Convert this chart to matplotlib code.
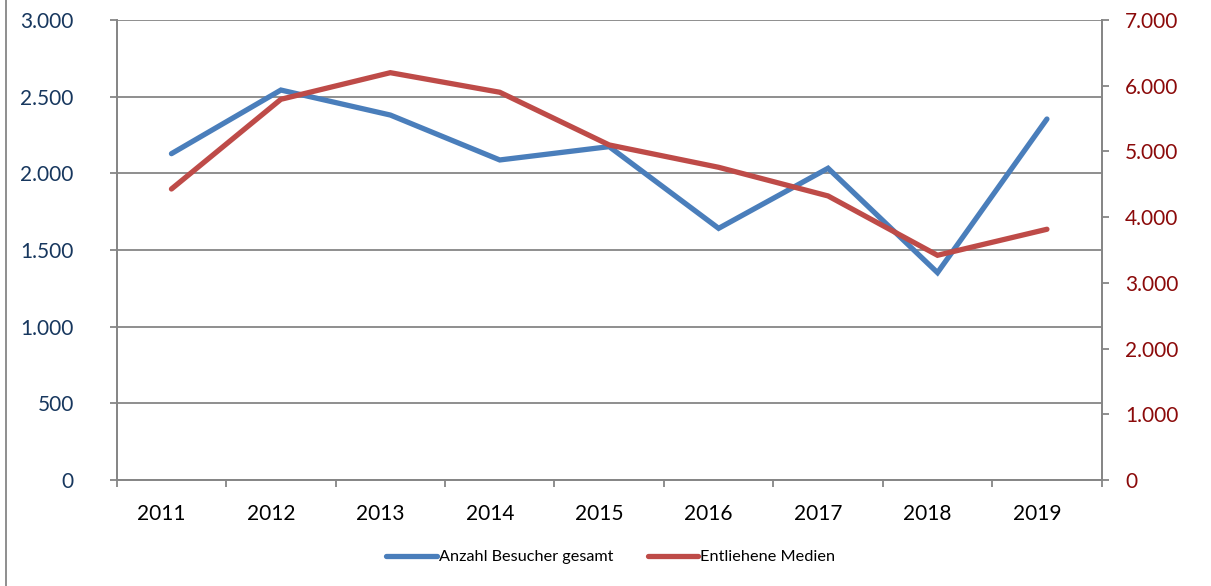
import matplotlib
matplotlib.use('Agg')
import matplotlib.pyplot as plt
import matplotlib.transforms as mtransforms
from matplotlib.ticker import FuncFormatter, FixedLocator
from matplotlib.lines import Line2D

jahre = ['2011', '2012', '2013', '2014', '2015', '2016', '2017', '2018', '2019']
besucher = [2128, 2543, 2380, 2087, 2174, 1641, 2033, 1352, 2354]
medien = [4428, 5793, 6198, 5900, 5098, 4758, 4322, 3419, 3815]

plt.rcParams['font.family'] = ['Lato', 'DejaVu Sans']

def tausender(v, pos):
    return '{:,.0f}'.format(v).replace(',', '.')

fig = plt.figure(figsize=(12.11, 5.86), dpi=100)
ax = fig.add_axes([0.0964, 0.181, 0.8133, 0.7849])
ax2 = ax.twinx()

grau = '#868686'
x = [i + 0.5 for i in range(len(jahre))]

l1, = ax.plot(x, besucher, color='#4A7EBB', lw=3.8, solid_capstyle='round',
              solid_joinstyle='miter', label='Anzahl Besucher gesamt', zorder=3)
l2, = ax2.plot(x, medien, color='#BE4B48', lw=3.8, solid_capstyle='round',
               solid_joinstyle='miter', label='Entliehene Medien', zorder=3)

ax.set_xlim(0, len(jahre))
ax.set_ylim(0, 3000)
ax2.set_ylim(0, 7000)
ax.set_yticks(range(0, 3001, 500))
ax2.set_yticks(range(0, 7001, 1000))
ax.yaxis.set_major_formatter(FuncFormatter(tausender))
ax2.yaxis.set_major_formatter(FuncFormatter(tausender))

ax.xaxis.set_major_locator(FixedLocator(range(len(jahre) + 1)))
ax.xaxis.set_major_formatter(FuncFormatter(lambda v, p: ''))
ax.xaxis.set_minor_locator(FixedLocator(x))
ax.set_xticklabels(jahre, minor=True)

ax.grid(axis='y', color=grau, lw=1.3)
ax.set_axisbelow(True)

for a in (ax, ax2):
    a.spines['top'].set_visible(False)
    for s in ('left', 'right', 'bottom'):
        a.spines[s].set_color(grau)
        a.spines[s].set_linewidth(1.3)

ax.tick_params(axis='y', direction='out', length=5, width=1.3, color=grau,
               labelsize=15, labelcolor='#17375E', pad=26)
ax2.tick_params(axis='y', direction='out', length=5, width=1.3, color=grau,
                labelsize=15, labelcolor='#8B0A0A', pad=12)
ax.tick_params(axis='x', which='major', direction='out', length=5, width=1.3, color=grau)
ax.tick_params(axis='x', which='minor', length=0, labelsize=15, labelcolor='black', pad=17)

# Jahreszahlen leicht nach links versetzt wie im Original
versatz = mtransforms.ScaledTranslation(-10 / 100, 0, fig.dpi_scale_trans)
for lab in ax.xaxis.get_minorticklabels():
    lab.set_transform(lab.get_transform() + versatz)

fig.legend(handles=[l1, l2], loc='center', bbox_to_anchor=(0.5045, 0.049), ncol=2,
           frameon=False, fontsize=11.7, handlelength=3.1, handletextpad=0.15,
           columnspacing=2.1)

fig.add_artist(Line2D([0.005, 0.005], [0, 1], color=grau, lw=1.3,
                      transform=fig.transFigure))

fig.savefig('out.png', dpi=100)
